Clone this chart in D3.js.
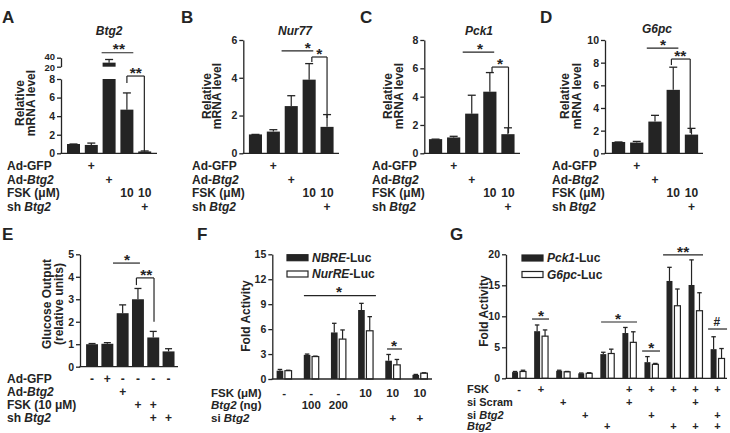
<!DOCTYPE html>
<html><head><meta charset="utf-8">
<script src="https://cdn.jsdelivr.net/npm/d3@7"></script>
<style>body{margin:0;background:#fff}svg{display:block;font-family:"Liberation Sans",Arial,sans-serif}</style>
</head><body><svg id="c" width="730" height="433"></svg>
<script>
// ---------------- DATA ----------------
const btg2Mean  = [1.0, 0.9, 29, 4.7, 0.2];
const btg2Err   = [1.0, 1.1, 36, 6.5, 0.25];
const nur77Mean = [1.0, 1.15, 2.5, 3.9, 1.4];
const nur77Err  = [1.0, 1.25, 3.05, 4.75, 2.05];
const pck1Mean  = [1.0, 1.12, 2.8, 4.35, 1.35];
const pck1Err   = [1.0, 1.2, 4.1, 5.7, 1.8];
const g6pcMean  = [1.0, 0.95, 2.8, 5.6, 1.65];
const g6pcErr   = [1.0, 1.05, 3.35, 7.6, 2.2];
const glucoseMean = [1.0, 1.02, 2.38, 3.0, 1.3, 0.68];
const glucoseErr  = [1.03, 1.07, 2.75, 3.48, 1.57, 0.8];
const nbreMean  = [1.0, 2.9, 5.6, 8.3, 2.2, 0.5];
const nbreErr   = [1.15, 3.0, 6.7, 9.1, 2.95, 0.55];
const nurreMean = [1.0, 2.7, 4.8, 5.8, 1.7, 0.7];
const nurreErr  = [1.05, 2.75, 5.9, 7.5, 2.35, 0.75];
const pck1LucMean = [1.0, 7.6, 1.2, 0.8, 3.9, 7.3, 2.6, 15.7, 15.05, 4.7];
const pck1LucErr  = [1.1, 8.6, 1.3, 0.85, 4.2, 8.2, 3.5, 17.9, 19.1, 6.7];
const g6pcLucMean = [1.1, 6.8, 1.05, 0.8, 4.0, 5.8, 2.25, 11.7, 10.9, 3.2];
const g6pcLucErr  = [1.3, 7.8, 1.1, 0.9, 4.7, 7.5, 2.4, 14.4, 13.8, 4.8];

const ticksALow = [0, 2, 4, 6, 8];
const ticksAHigh = [20, 40];
const ticksB = [0, 2, 4, 6];
const ticksC = [0, 2, 4, 6, 8];
const ticksD = [0, 2, 4, 6, 8, 10];
const ticksE = [0, 1, 2, 3, 4, 5];
const ticksF = [0, 3, 6, 9, 12, 15];
const ticksG = [0, 5, 10, 15, 20];

// row labels: segments [text, italic]
const rowsAD = [[["Ad-GFP", 0]], [["Ad-", 0], ["Btg2", 1]], [["FSK (\u03bcM)", 0]], [["sh ", 0], ["Btg2", 1]]];
const marksAD = [["", "+", "", "", ""], ["", "", "+", "", ""], ["", "", "", "10", "10"], ["", "", "", "", "+"]];
const rowsE = [[["Ad-GFP", 0]], [["Ad-", 0], ["Btg2", 1]], [["FSK (10 \u03bcM)", 0]], [["sh ", 0], ["Btg2", 1]]];
const marksE = [["-", "+", "-", "-", "-", "-"], ["", "", "+", "", "", ""], ["", "", "", "+", "+", ""], ["", "", "", "", "+", "+"]];
const rowsF = [[["FSK (\u03bcM)", 0]], [["Btg2", 1], [" (ng)", 0]], [["si ", 0], ["Btg2", 1]]];
const marksF = [["-", "-", "-", "10", "10", "10"], ["", "100", "200", "", "", ""], ["", "", "", "", "+", "+"]];
const rowsG = [[["FSK", 0]], [["si Scram", 0]], [["si ", 0], ["Btg2", 1]], [["Btg2", 1]]];
const marksG = [
  ["-", "+", "", "", "", "+", "+", "+", "+", "+"],
  ["", "", "+", "", "", "+", "", "", "+", ""],
  ["", "", "", "+", "", "", "+", "", "", "+"],
  ["", "", "", "", "+", "", "", "+", "+", "+"]];

const legendF = [[["NBRE", 1], ["-Luc", 0]], [["NurRE", 1], ["-Luc", 0]]];
const legendG = [[["Pck1", 1], ["-Luc", 0]], [["G6pc", 1], ["-Luc", 0]]];

// significance marks: a,b = bar index span; v = value level; at = label index; ends = bracket leg values
const sigA = [{a: 1.58, b: 3.36, v: 51, at: 2.55, t: "**"}, {a: 3, b: 3.98, v: 8.32, at: 3.5, t: "**", ends: [7.57, 0.2]}];
const sigB = [{a: 1.46, b: 3.23, v: 5.42, at: 2.93, t: "*"}, {a: 3.15, b: 4, v: 5.1, at: 3.57, t: "*", ends: [4.84, 1.87]}];
const sigC = [{a: 1.5, b: 3.24, v: 7.15, at: 2.46, t: "*"}, {a: 3.12, b: 4.03, v: 6.09, at: 3.56, t: "*", ends: [5.74, 1.43]}];
const sigD = [{a: 1.55, b: 3.28, v: 9.29, at: 2.44, t: "*"}, {a: 2.9, b: 3.93, v: 8.32, at: 3.39, t: "**", ends: [7.79, 1.79]}];
const sigE = [{a: 1.37, b: 3.13, v: 4.61, at: 2.28, t: "*"}, {a: 2.9, b: 4.05, v: 3.95, at: 3.55, t: "**", ends: [3.63, 2.0]}];
const sigF = [{a: 0.73, b: 3.38, v: 10.02, at: 2.02, t: "*"}, {a: 3.79, b: 4.34, v: 3.61, at: 4.05, t: "*"}];
const sigG = [{a: 0.59, b: 1.36, v: 9.56, at: 1.0, t: "*"}, {a: 3.72, b: 5.35, v: 9.08, at: 4.49, t: "*"},
  {a: 5.58, b: 6.39, v: 4.4, at: 6.0, t: "*"}, {a: 6.53, b: 8.34, v: 19.9, at: 7.44, t: "**"},
  {a: 8.57, b: 9.43, v: 7.95, at: 8.97, t: "#"}];

// ---------------- DRAW ----------------
const INK = "#242424";
const svg = d3.select("#c");
const FONT = "'Liberation Sans', Arial, sans-serif";

function rich(sel, segs) {
  segs.forEach(s => sel.append("tspan").text(s[0]).attr("font-style", s[1] ? "italic" : null));
  return sel;
}
function txt(x, y, size, opts = {}) {
  return svg.append("text").attr("x", x).attr("y", y).attr("font-size", size)
    .attr("font-weight", opts.weight || "bold").attr("fill", INK)
    .attr("text-anchor", opts.anchor || "start").attr("font-family", FONT);
}
function line(x1, y1, x2, y2, w = 1.25) {
  svg.append("line").attr("x1", x1).attr("y1", y1).attr("x2", x2).attr("y2", y2)
    .attr("stroke", INK).attr("stroke-width", w);
}
function yAxis(scale, ticks, ax, fs = 10.5) {
  const g = svg.append("g").attr("transform", `translate(${ax},0)`)
    .call(d3.axisLeft(scale).tickValues(ticks).tickSize(4).tickSizeOuter(0).tickPadding(2).tickFormat(d3.format("d")));
  g.select(".domain").attr("stroke", INK).attr("stroke-width", 1.3);
  g.selectAll(".tick line").attr("stroke", INK).attr("stroke-width", 1.3);
  g.selectAll(".tick text").attr("fill", INK).attr("font-size", fs).attr("font-weight", "bold").attr("font-family", FONT);
  return g;
}
function yLabel(lines, x0, yc, gap) {
  lines.forEach((l, i) => {
    const t = svg.append("text").attr("transform", `translate(${x0 + i * gap},${yc}) rotate(-90)`)
      .attr("text-anchor", "middle").attr("font-size", 12).attr("font-weight", "bold")
      .attr("fill", INK).attr("font-family", FONT);
    t.text(l);
  });
}
function centerFn(xs) { return i => xs(0) + xs.bandwidth() / 2 + i * xs.step(); }
function errBar(cx, yTop, yErr, cap) {
  line(cx, yTop, cx, yErr, 1.2);
  line(cx - cap / 2, yErr, cx + cap / 2, yErr, 1.3);
}
function sigs(list, cx, y) {
  list.forEach(s => {
    const x1 = cx(s.a), x2 = cx(s.b), yy = y(s.v);
    line(x1, yy, x2, yy, 1.2);
    if (s.ends) { line(x1, yy, x1, y(s.ends[0]), 1.2); line(x2, yy, x2, y(s.ends[1]), 1.2); }
    if (s.t === "#") txt(cx(s.at), yy - 3, 12, {anchor: "middle"}).text(s.t);
    else txt(cx(s.at), yy + 1.7, 15.5, {anchor: "middle"}).text(s.t);
  });
}
function rows(labels, marks, lx, baselines, cx, fs = 12) {
  labels.forEach((segs, r) => {
    rich(txt(lx, baselines[r], fs), segs);
    marks[r].forEach((m, i) => { if (m) txt(cx(i), baselines[r], fs, {anchor: "middle"}).text(m); });
  });
}
function letter(L, x, y) { txt(x, y, 17).text(L); }

const rowY_AD = [170, 183.5, 197, 210.5];
const TITLE_Y = 34.5;

// ---- simple single-series panel ----
function simplePanel(o) {
  const xs = d3.scaleBand(d3.range(o.mean.length), o.range).paddingInner(o.pad).paddingOuter(o.pad / 2);
  const cx = centerFn(xs);
  const y = o.y;
  yAxis(y, o.ticks, o.ax);
  line(o.ax - 0.6, y(0), o.axEnd, y(0), 1.3);
  o.mean.forEach((v, i) => {
    svg.append("rect").attr("x", xs(i)).attr("width", xs.bandwidth())
      .attr("y", y(v)).attr("height", y(0) - y(v)).attr("fill", INK);
    errBar(cx(i), y(v), y(o.err[i]), o.cap);
  });
  sigs(o.sig, cx, y);
  if (o.title) txt(o.titleX, o.titleY || TITLE_Y, 12).attr("font-style", "italic").attr("text-anchor", "middle").text(o.title);
  return cx;
}

// ---- Panel A (broken axis) ----
(function () {
  const lower = d3.scaleLinear([0, 8], [153.3, 79]);
  const upper = d3.scaleLinear([20, 40], [66.7, 57.7]);
  const yA = v => v < 20 ? lower(v) : upper(v);
  const xs = d3.scaleBand(d3.range(5), [64.6, 153.6]).paddingInner(0.27).paddingOuter(0.135);
  const cx = centerFn(xs);
  yAxis(lower, ticksALow, 61);
  const up = yAxis(upper, ticksAHigh, 61, 9.5);
  up.selectAll(".tick text").attr("dy", (d) => d === 40 ? "0.2em" : "0.42em");
  line(60.4, lower(0), 157, lower(0), 1.3);
  btg2Mean.forEach((v, i) => {
    if (v < 20) {
      svg.append("rect").attr("x", xs(i)).attr("width", xs.bandwidth()).attr("y", lower(v))
        .attr("height", lower(0) - lower(v)).attr("fill", INK);
    } else {
      svg.append("rect").attr("x", xs(i)).attr("width", xs.bandwidth()).attr("y", lower(8))
        .attr("height", lower(0) - lower(8)).attr("fill", INK);
      svg.append("rect").attr("x", xs(i)).attr("width", xs.bandwidth()).attr("y", upper(v))
        .attr("height", upper(20) - upper(v)).attr("fill", INK);
    }
    errBar(cx(i), yA(v), yA(btg2Err[i]), 8);
  });
  sigs(sigA, cx, yA);
  txt(cx(2), TITLE_Y, 12).attr("font-style", "italic").attr("text-anchor", "middle").text("Btg2");
  yLabel(["Relative", "mRNA level"], 24.3, 103, 10.8);
  rows(rowsAD, marksAD, 7, rowY_AD, cx);
  letter("A", 2, 23);
})();

// ---- Panels B, C, D ----
(function () {
  const yB = d3.scaleLinear([0, 6], [153.3, 40]);
  const cxB = simplePanel({mean: nur77Mean, err: nur77Err, range: [246.5, 336], pad: 0.27, y: yB, ticks: ticksB,
    ax: 243.3, axEnd: 339, cap: 8, sig: sigB, title: "Nur77", titleX: 295});
  yLabel(["Relative", "mRNA level"], 210.6, 96, 10.7);
  rows(rowsAD, marksAD, 192, rowY_AD, cxB);
  letter("B", 181, 23);

  const yC = d3.scaleLinear([0, 8], [153.3, 40]);
  const cxC = simplePanel({mean: pck1Mean, err: pck1Err, range: [426.5, 517], pad: 0.27, y: yC, ticks: ticksC,
    ax: 424.3, axEnd: 520, cap: 8, sig: sigC, title: "Pck1", titleX: 479});
  yLabel(["Relative", "mRNA level"], 392.3, 96, 10.5);
  rows(rowsAD, marksAD, 372, rowY_AD, cxC);
  letter("C", 360, 23);

  const yD = d3.scaleLinear([0, 10], [153.3, 40]);
  const cxD = simplePanel({mean: g6pcMean, err: g6pcErr, range: [609.4, 700.6], pad: 0.27, y: yD, ticks: ticksD,
    ax: 605, axEnd: 703, cap: 8, sig: sigD, title: "G6pc", titleX: 657, titleY: 33});
  yLabel(["Relative", "mRNA level"], 569.3, 96, 11.3);
  rows(rowsAD, marksAD, 552, rowY_AD, cxD);
  letter("D", 540, 23);
})();

// ---- Panel E ----
(function () {
  const yE = d3.scaleLinear([0, 5], [366.7, 254.3]);
  const cxE = simplePanel({mean: glucoseMean, err: glucoseErr, range: [84.4, 176.2], pad: 0.22, y: yE, ticks: ticksE,
    ax: 80, axEnd: 178, cap: 7, sig: sigE});
  yLabel(["Glucose Output", "(relative units)"], 51, 304, 12);
  rows(rowsE, marksE, 7, [382.5, 395.7, 408.9, 422.1], cxE);
  letter("E", 2, 240);
})();

// ---- grouped panels F, G ----
function groupPanel(o) {
  const xs = d3.scaleBand(d3.range(o.a.length), o.range).paddingInner(o.pad).paddingOuter(o.pad / 2);
  const sub = d3.scaleBand([0, 1], [0, xs.bandwidth()]).paddingInner(o.subPad);
  const cx = centerFn(xs);
  const y = o.y;
  yAxis(y, o.ticks, o.ax);
  [o.a, o.b].forEach((series, k) => {
    const errs = k === 0 ? o.ea : o.eb;
    series.forEach((v, i) => {
      const x = xs(i) + sub(k);
      svg.append("rect").attr("x", x).attr("width", sub.bandwidth()).attr("y", y(v))
        .attr("height", y(0) - y(v))
        .attr("fill", k === 0 ? INK : "#fff").attr("stroke", k === 0 ? "none" : INK).attr("stroke-width", 1.2);
      errBar(x + sub.bandwidth() / 2, y(v), y(errs[i]), 4.5);
    });
  });
  line(o.ax - 0.6, y(0), o.axEnd, y(0), 1.3);
  sigs(o.sig, cx, y);
  // legend
  o.legend.forEach((segs, k) => {
    const ly = o.legY[k];
    svg.append("rect").attr("x", o.legX).attr("y", ly - 3).attr("width", 21).attr("height", 6)
      .attr("fill", k === 0 ? INK : "#fff").attr("stroke", INK).attr("stroke-width", 1.2);
    rich(txt(o.legX + 25, ly + 4.3, 12), segs);
  });
  return cx;
}

(function () {
  const yF = d3.scaleLinear([0, 15], [379, 254.3]);
  const cxF = groupPanel({a: nbreMean, b: nurreMean, ea: nbreErr, eb: nurreErr, range: [270.5, 433.5],
    pad: 0.45, subPad: 0.2, y: yF, ticks: ticksF, ax: 272.3, axEnd: 432, sig: sigF,
    legend: legendF, legX: 287, legY: [257.7, 274]});
  yLabel(["Fold Activity"], 250.2, 316, 0);
  rows(rowsF, marksF, 211, [396.8, 409, 421.6], cxF, 11.5);
  letter("F", 197, 240);

  const yG = d3.scaleLinear([0, 20], [378.3, 254.3]);
  const cxG = groupPanel({a: pck1LucMean, b: g6pcLucMean, ea: pck1LucErr, eb: g6pcLucErr, range: [508, 728.6],
    pad: 0.37, subPad: 0.25, y: yG, ticks: ticksG, ax: 506, axEnd: 727, sig: sigG,
    legend: legendG, legX: 522, legY: [258, 274.5]});
  yLabel(["Fold Activity"], 488.4, 311, 0);
  rows(rowsG, marksG, 467, [393.3, 406, 418.6, 430], cxG, 11);
  letter("G", 450, 240);
})();
</script></body></html>
